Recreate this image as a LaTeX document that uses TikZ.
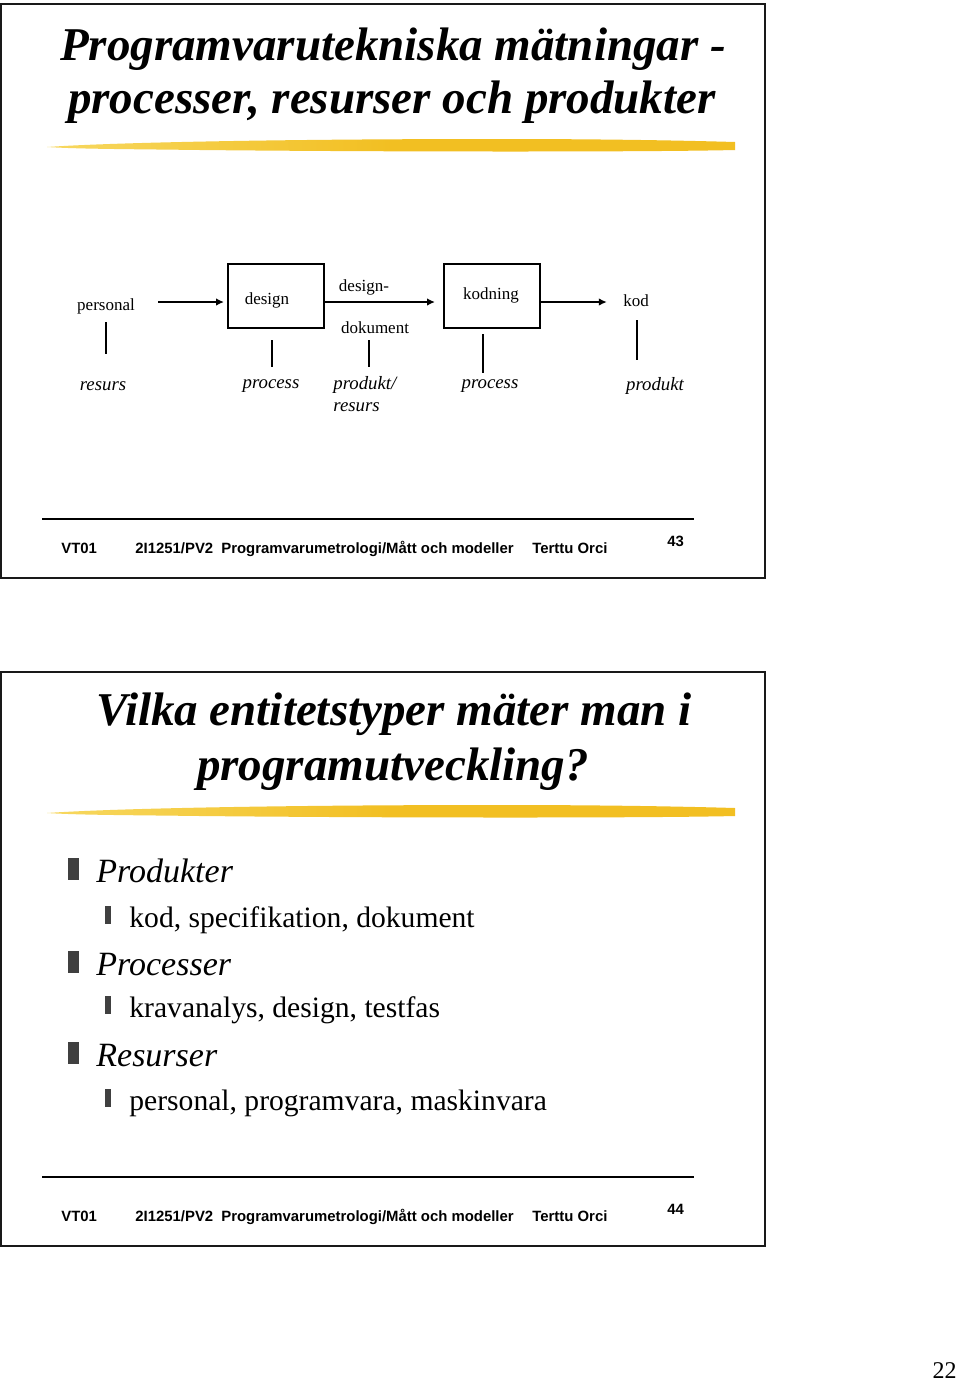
\documentclass[tikz,border=0pt]{standalone}
\usepackage{fontspec}
\setmainfont{Liberation Serif}
\newfontfamily\footfont{Liberation Sans}
\usetikzlibrary{arrows.meta,positioning}
\definecolor{brushgold}{HTML}{F2BF22}
\definecolor{brushlight}{HTML}{F7D860}
\definecolor{bulletgray}{HTML}{404040}
\tikzset{
  slideframe/.style={draw=black!90,line width=1pt},
  titletext/.style={font=\fontsize{23.5}{26}\selectfont\bfseries\itshape,anchor=base,inner sep=0pt},
  plain/.style={font=\fontsize{8.5}{10}\selectfont,inner sep=1pt},
  kind/.style={font=\fontsize{9.4}{11}\selectfont\itshape,inner sep=1pt},
  stepbox/.style={draw,line width=1pt,minimum width=48pt,minimum height=32pt},
  flow/.style={line width=0.8pt,-{Latex[length=4pt,width=3.8pt]}},
  tick/.style={line width=0.8pt},
  foot/.style={font=\footfont\fontsize{7.45}{8}\selectfont\bfseries,anchor=base west,inner sep=0pt},
  mainitem/.style={font=\fontsize{17}{19}\selectfont\itshape,anchor=base west,inner sep=0pt},
  subitem/.style={font=\fontsize{14.8}{17}\selectfont,anchor=base west,inner sep=0pt}
}
\newcommand{\brush}[1]{%
  \shade[left color=brushlight,right color=brushgold,middle color=brushgold]
    (47,#1+1) .. controls (120,#1-4) and (300,#1-7) .. (500,#1-7)
    .. controls (620,#1-7) and (700,#1-5) .. (735,#1-4)
    -- (735,#1+4) .. controls (650,#1+6) and (400,#1+6) .. (200,#1+4)
    .. controls (120,#1+3) and (80,#1+3) .. (47,#1+1) -- cycle;}
\newcommand{\footer}[3]{%
  \draw[line width=0.9pt] (42,#1) -- (694,#1);
  \node[foot] (vt#3) at (61,#2) {VT01};
  \node[foot] (kurs#3) at (135,#2) {2I1251/PV2};
  \node[foot] (namn#3) at (221,#2) {Programvarumetrologi/Mått och modeller};
  \node[foot] (orci#3) at (532,#2) {Terttu Orci};
  \node[foot] (nr#3) at (667,#2-7) {#3};}
\begin{document}
\begin{tikzpicture}[x=0.5pt,y=-0.5pt]
\useasboundingbox (0,0) rectangle (960,1382);
\fill[white] (0,0) rectangle (960,1382);

% slide 43
\draw[slideframe] (1,4) rectangle (765,578);
\node[titletext] (title1a) at (393,60) {Programvarutekniska mätningar -};
\node[titletext] (title1b) at (392,113) {processer, resurser och produkter};
\brush{146}

\node[plain] (personal) at (106,306) {personal};
\node[stepbox] (design) at (276,296) {};
\node[plain] at (267,300) {design};
\node[stepbox] (kodning) at (492,296) {};
\node[plain] at (491,295) {kodning};
\node[plain] (kod) at (636,301) {kod};
\node[plain] (dok1) at (364,287) {design-};
\node[plain] (dok2) at (375,328) {dokument};

\draw[flow,shorten <=10.5pt,shorten >=1.5pt] (personal.east |- 0,302) -- (design.west |- 0,302);
\draw[flow,shorten >=4pt] (design.east |- 0,302) -- (kodning.west |- 0,302);
\draw[flow,shorten >=7pt] (kodning.east |- 0,302) -- (kod.west |- 0,302);

\node[kind] (resurs) at (103,386) {resurs};
\node[kind] (proc1) at (271,386) {process};
\node[kind,anchor=north west,align=left,inner sep=0pt] (prodres) at (333,376) {produkt/\\resurs};
\node[kind] (proc2) at (490,386) {process};
\node[kind] (produkt) at (655,386) {produkt};

\draw[tick] (106,322) -- (106,354);
\draw[tick] (272,340) -- (272,367);
\draw[tick] (369,340) -- (369,367);
\draw[tick] (483,334) -- (483,373);
\draw[tick] (637,320) -- (637,360);

\footer{519}{553}{43}

% slide 44
\draw[slideframe] (1,672) rectangle (765,1246);
\node[titletext] (title2a) at (394,725) {Vilka entitetstyper mäter man i};
\node[titletext] (title2b) at (393,780) {programutveckling?};
\brush{812}

\foreach \y/\txt [count=\i] in {882/Produkter,975/Processer,1066/Resurser}{
  \fill[bulletgray] (68,\y-24) rectangle (79,\y-2);
  \node[mainitem] (main\i) at (96,\y) {\txt};
}
\foreach \y/\txt [count=\i] in {927/{kod, specifikation, dokument},1017/{kravanalys, design, testfas},1110/{personal, programvara, maskinvara}}{
  \fill[bulletgray] (105,\y-21) rectangle (111,\y-3);
  \node[subitem] (sub\i) at (129,\y) {\txt};
}

\footer{1177}{1221}{44}

\node[font=\fontsize{12}{14}\selectfont,anchor=base east,inner sep=0pt] (pagenr) at (957,1378) {22};
\end{tikzpicture}
\end{document}
